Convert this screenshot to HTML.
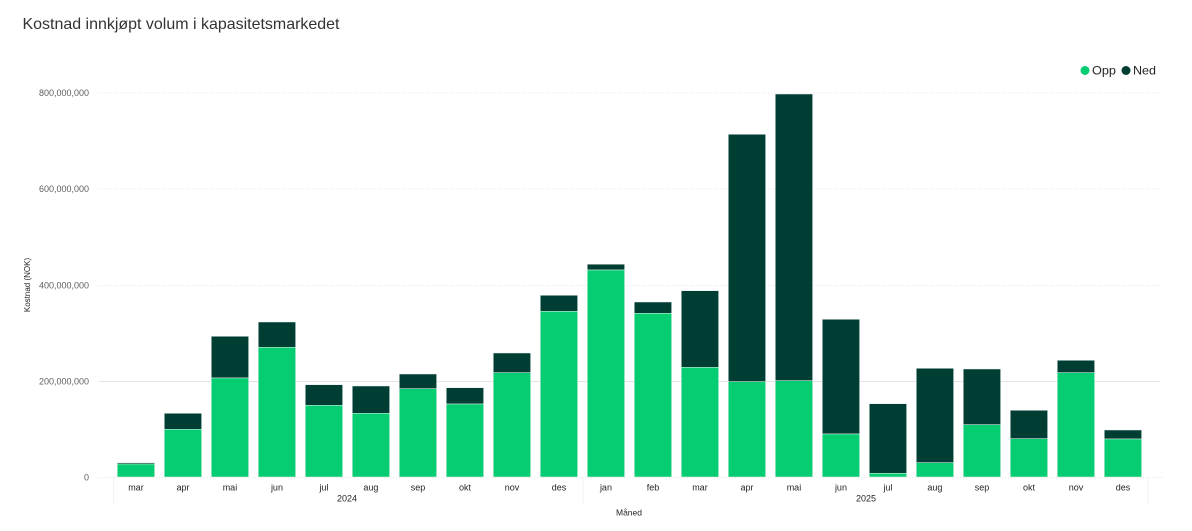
<!DOCTYPE html>
<html><head><meta charset="utf-8"><style>
html,body{margin:0;padding:0;background:#fff;}
svg{display:block;}
text{font-family:"Liberation Sans",sans-serif;}
</style></head><body>
<svg width="1192" height="531" viewBox="0 0 1192 531" xmlns="http://www.w3.org/2000/svg">
<rect width="1192" height="531" fill="#fff"/>
<text x="22.5" y="29" font-size="16" fill="#333" textLength="317" lengthAdjust="spacingAndGlyphs">Kostnad innkjøpt volum i kapasitetsmarkedet</text>
<!-- legend -->
<circle cx="1085" cy="70.5" r="4.5" fill="#06cd72"/>
<text x="1092" y="74.5" font-size="12" fill="#252423" textLength="24" lengthAdjust="spacingAndGlyphs">Opp</text>
<circle cx="1126" cy="70.5" r="4.5" fill="#003d33"/>
<text x="1133" y="74.5" font-size="12" fill="#252423" textLength="23" lengthAdjust="spacingAndGlyphs">Ned</text>
<!-- gridlines -->
<g stroke="#e3e3e3" stroke-width="1">
<line x1="99" y1="93" x2="1160" y2="93" stroke-dasharray="1,2"/>
<line x1="99" y1="189" x2="1160" y2="189" stroke-dasharray="1,2"/>
<line x1="99" y1="285.5" x2="1160" y2="285.5" stroke-dasharray="1,2"/>
<line x1="99" y1="381.5" x2="1160" y2="381.5"/>
<line x1="99" y1="477.5" x2="1163" y2="477.5" stroke-dasharray="1,2"/>
</g>
<!-- y labels -->
<g font-size="9" fill="#605e5c" text-anchor="end">
<text x="89" y="96">800,000,000</text>
<text x="89" y="192">600,000,000</text>
<text x="89" y="288.5">400,000,000</text>
<text x="89" y="384.5">200,000,000</text>
<text x="89" y="480.5">0</text>
</g>
<text transform="translate(30,285) rotate(-90)" font-size="8" fill="#252423" text-anchor="middle">Kostnad (NOK)</text>
<!-- bars -->
<g stroke="#e8f3ee" stroke-width="0.5">
<rect x="117.3" y="462.7" width="37.3" height="1.3" fill="#003d33"/><rect x="117.3" y="464" width="37.3" height="13" fill="#06cd72"/>
<rect x="164.3" y="413.3" width="37.3" height="16" fill="#003d33"/><rect x="164.3" y="429.3" width="37.3" height="47.7" fill="#06cd72"/>
<rect x="211.3" y="336.3" width="37.3" height="41.7" fill="#003d33"/><rect x="211.3" y="378" width="37.3" height="99" fill="#06cd72"/>
<rect x="258.3" y="322" width="37.3" height="25.3" fill="#003d33"/><rect x="258.3" y="347.3" width="37.3" height="129.7" fill="#06cd72"/>
<rect x="305.3" y="384.7" width="37.3" height="20.6" fill="#003d33"/><rect x="305.3" y="405.3" width="37.3" height="71.7" fill="#06cd72"/>
<rect x="352.3" y="386" width="37.3" height="27.3" fill="#003d33"/><rect x="352.3" y="413.3" width="37.3" height="63.7" fill="#06cd72"/>
<rect x="399.3" y="374" width="37.3" height="14.7" fill="#003d33"/><rect x="399.3" y="388.7" width="37.3" height="88.3" fill="#06cd72"/>
<rect x="446.3" y="387.7" width="37.3" height="16.3" fill="#003d33"/><rect x="446.3" y="404" width="37.3" height="73" fill="#06cd72"/>
<rect x="493.3" y="353" width="37.3" height="19.7" fill="#003d33"/><rect x="493.3" y="372.7" width="37.3" height="104.3" fill="#06cd72"/>
<rect x="540.3" y="295.3" width="37.3" height="16" fill="#003d33"/><rect x="540.3" y="311.3" width="37.3" height="165.7" fill="#06cd72"/>
<rect x="587.3" y="264.2" width="37.3" height="5.8" fill="#003d33"/><rect x="587.3" y="270" width="37.3" height="207" fill="#06cd72"/>
<rect x="634.3" y="302" width="37.3" height="11.3" fill="#003d33"/><rect x="634.3" y="313.3" width="37.3" height="163.7" fill="#06cd72"/>
<rect x="681.3" y="290.7" width="37.3" height="76.6" fill="#003d33"/><rect x="681.3" y="367.3" width="37.3" height="109.7" fill="#06cd72"/>
<rect x="728.3" y="134.3" width="37.3" height="247.4" fill="#003d33"/><rect x="728.3" y="381.7" width="37.3" height="95.3" fill="#06cd72"/>
<rect x="775.3" y="94" width="37.3" height="286.7" fill="#003d33"/><rect x="775.3" y="380.7" width="37.3" height="96.3" fill="#06cd72"/>
<rect x="822.3" y="319.3" width="37.3" height="114.7" fill="#003d33"/><rect x="822.3" y="434" width="37.3" height="43" fill="#06cd72"/>
<rect x="869.3" y="403.7" width="37.3" height="69.6" fill="#003d33"/><rect x="869.3" y="473.3" width="37.3" height="3.7" fill="#06cd72"/>
<rect x="916.3" y="368.3" width="37.3" height="94.4" fill="#003d33"/><rect x="916.3" y="462.7" width="37.3" height="14.3" fill="#06cd72"/>
<rect x="963.3" y="369" width="37.3" height="55.7" fill="#003d33"/><rect x="963.3" y="424.7" width="37.3" height="52.3" fill="#06cd72"/>
<rect x="1010.3" y="410.3" width="37.3" height="28.4" fill="#003d33"/><rect x="1010.3" y="438.7" width="37.3" height="38.3" fill="#06cd72"/>
<rect x="1057.3" y="360.3" width="37.3" height="12.4" fill="#003d33"/><rect x="1057.3" y="372.7" width="37.3" height="104.3" fill="#06cd72"/>
<rect x="1104.3" y="430" width="37.3" height="9" fill="#003d33"/><rect x="1104.3" y="439" width="37.3" height="38" fill="#06cd72"/>
</g>
<!-- separators -->
<g stroke="#e6e6e6" stroke-width="1" stroke-dasharray="1,1">
<line x1="113.5" y1="478" x2="113.5" y2="504"/>
<line x1="583" y1="478" x2="583" y2="504"/>
<line x1="1148" y1="478" x2="1148" y2="504"/>
</g>
<g font-size="9" fill="#252423" text-anchor="middle">
<text x="135.95" y="490.5">mar</text>
<text x="182.95" y="490.5">apr</text>
<text x="229.95" y="490.5">mai</text>
<text x="276.95" y="490.5">jun</text>
<text x="323.95" y="490.5">jul</text>
<text x="370.95" y="490.5">aug</text>
<text x="417.95" y="490.5">sep</text>
<text x="464.95" y="490.5">okt</text>
<text x="511.95" y="490.5">nov</text>
<text x="558.95" y="490.5">des</text>
<text x="605.95" y="490.5">jan</text>
<text x="652.95" y="490.5">feb</text>
<text x="699.95" y="490.5">mar</text>
<text x="746.95" y="490.5">apr</text>
<text x="793.95" y="490.5">mai</text>
<text x="840.95" y="490.5">jun</text>
<text x="887.95" y="490.5">jul</text>
<text x="934.95" y="490.5">aug</text>
<text x="981.95" y="490.5">sep</text>
<text x="1028.95" y="490.5">okt</text>
<text x="1075.95" y="490.5">nov</text>
<text x="1122.95" y="490.5">des</text>
<text x="347" y="501.5">2024</text>
<text x="866" y="501.5">2025</text>
</g>
<text x="629" y="515.5" font-size="8.5" fill="#252423" text-anchor="middle">Måned</text>
</svg>
</body></html>
